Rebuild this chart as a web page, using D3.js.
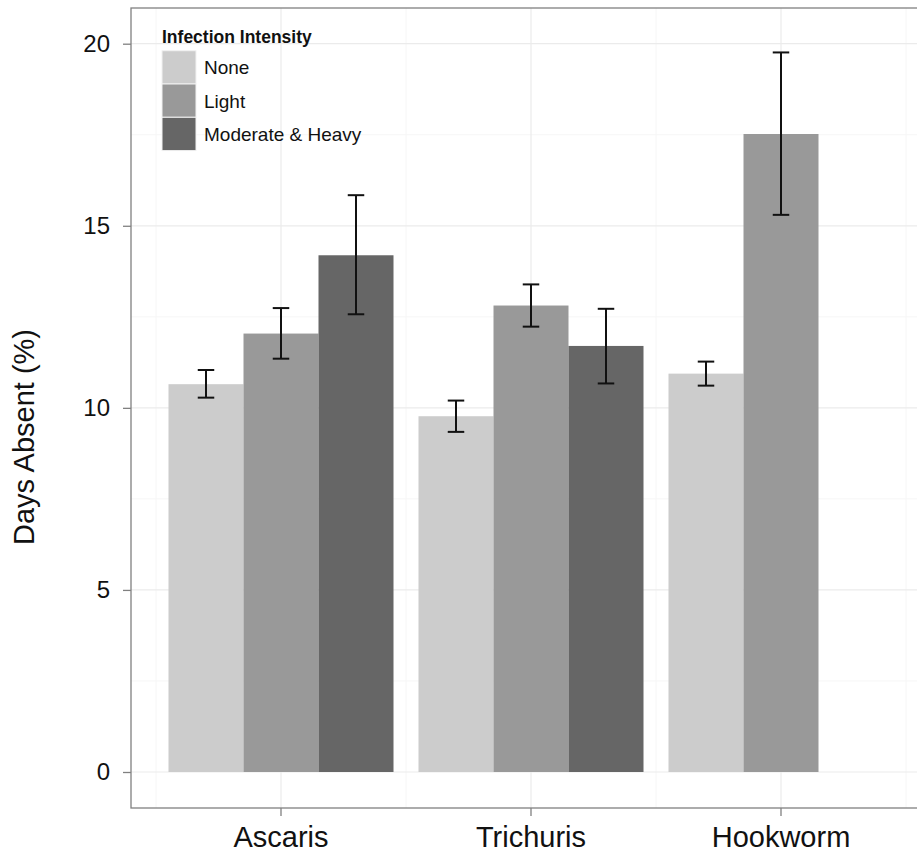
<!DOCTYPE html>
<html>
<head>
<meta charset="utf-8">
<script src="https://cdn.jsdelivr.net/npm/d3@7"></script>
<style>
  html, body { margin: 0; padding: 0; background: #fff; }
  svg { display: block; font-family: "Liberation Sans", Arial, Helvetica, sans-serif; }
</style>
</head>
<body>
<svg id="chart" width="917" height="856"></svg>
<script>
// Parasites on the x axis and infection-intensity groups within each
const parasites = ["Ascaris", "Trichuris", "Hookworm"];
const intensities = ["None", "Light", "Moderate & Heavy"];

// Mean days absent (%) per parasite, one array per intensity group
const noneMean  = [10.65, 9.77, 10.94];
const lightMean = [12.04, 12.81, 17.52];
const heavyMean = [14.19, 11.70, null];

// Lower / upper bounds of the error bars
const noneLow   = [10.28, 9.34, 10.61];
const noneHigh  = [11.04, 10.20, 11.27];
const lightLow  = [11.35, 12.23, 15.30];
const lightHigh = [12.74, 13.39, 19.76];
const heavyLow  = [12.57, 10.67, null];
const heavyHigh = [15.84, 12.72, null];

const yTicks = [0, 5, 10, 15, 20];
const yMinorTicks = [2.5, 7.5, 12.5, 17.5];
const fillColors = ["#cccccc", "#999999", "#666666"];

const groups = [
  { key: intensities[0], mean: noneMean,  low: noneLow,  high: noneHigh },
  { key: intensities[1], mean: lightMean, low: lightLow, high: lightHigh },
  { key: intensities[2], mean: heavyMean, low: heavyLow, high: heavyHigh }
];

const rows = [];
parasites.forEach((p, i) => {
  groups.forEach(g => {
    if (g.mean[i] != null) {
      rows.push({ parasite: p, intensity: g.key, value: g.mean[i], low: g.low[i], high: g.high[i] });
    }
  });
});

const svg = d3.select("#chart");

// Panel geometry
const panel = { left: 131, right: 931, top: 8, bottom: 808 };

const x = d3.scaleBand()
  .domain(parasites)
  .range([panel.left, panel.right])
  .paddingInner(0.1)
  .paddingOuter(0.15);

const xInner = d3.scaleBand()
  .domain(intensities)
  .range([0, x.bandwidth()]);

const y = d3.scaleLinear()
  .domain([0, 20])
  .range([772, 43.7]);

const color = d3.scaleOrdinal().domain(intensities).range(fillColors);

const step = x.step();
const centers = parasites.map(p => x(p) + x.bandwidth() / 2);
const xMinor = [centers[0] - step / 2, ...centers.map(c => c + step / 2)];

const defs = svg.append("defs");
defs.append("clipPath").attr("id", "panel-clip")
  .append("rect")
  .attr("x", panel.left).attr("y", panel.top)
  .attr("width", panel.right - panel.left).attr("height", panel.bottom - panel.top);

const plot = svg.append("g").attr("clip-path", "url(#panel-clip)");

// Minor grid
plot.append("g").selectAll("line").data(yMinorTicks).join("line")
  .attr("x1", panel.left).attr("x2", panel.right)
  .attr("y1", d => y(d)).attr("y2", d => y(d))
  .attr("stroke", "#f6f6f6").attr("stroke-width", 1);
plot.append("g").selectAll("line").data(xMinor).join("line")
  .attr("x1", d => d).attr("x2", d => d)
  .attr("y1", panel.top).attr("y2", panel.bottom)
  .attr("stroke", "#f6f6f6").attr("stroke-width", 1);

// Major grid
plot.append("g").selectAll("line").data(yTicks).join("line")
  .attr("x1", panel.left).attr("x2", panel.right)
  .attr("y1", d => y(d)).attr("y2", d => y(d))
  .attr("stroke", "#ebebeb").attr("stroke-width", 1.2);
plot.append("g").selectAll("line").data(centers).join("line")
  .attr("x1", d => d).attr("x2", d => d)
  .attr("y1", panel.top).attr("y2", panel.bottom)
  .attr("stroke", "#ebebeb").attr("stroke-width", 1.2);

// Bars
plot.append("g").selectAll("rect").data(rows).join("rect")
  .attr("x", d => x(d.parasite) + xInner(d.intensity))
  .attr("width", xInner.bandwidth())
  .attr("y", d => y(d.value))
  .attr("height", d => y(0) - y(d.value))
  .attr("fill", d => color(d.intensity));

// Error bars
const capHalf = xInner.bandwidth() * 0.11;
const eb = plot.append("g").attr("stroke", "#111").attr("stroke-width", 2).attr("fill", "none");
rows.forEach(d => {
  const cx = x(d.parasite) + xInner(d.intensity) + xInner.bandwidth() / 2;
  eb.append("line").attr("x1", cx).attr("x2", cx).attr("y1", y(d.low)).attr("y2", y(d.high));
  eb.append("line").attr("x1", cx - capHalf).attr("x2", cx + capHalf).attr("y1", y(d.low)).attr("y2", y(d.low));
  eb.append("line").attr("x1", cx - capHalf).attr("x2", cx + capHalf).attr("y1", y(d.high)).attr("y2", y(d.high));
});

// Panel border
svg.append("rect")
  .attr("x", panel.left).attr("y", panel.top)
  .attr("width", panel.right - panel.left).attr("height", panel.bottom - panel.top)
  .attr("fill", "none").attr("stroke", "#808080").attr("stroke-width", 1.3);

// Y axis
const yAxis = svg.append("g")
  .attr("transform", `translate(${panel.left},0)`)
  .call(d3.axisLeft(y).tickValues(yTicks).tickSize(8).tickPadding(13).tickFormat(d3.format("d")));
yAxis.select(".domain").remove();
yAxis.selectAll(".tick line").attr("stroke", "#808080").attr("stroke-width", 1.3);
yAxis.selectAll(".tick text")
  .attr("font-size", 24).attr("fill", "#111").attr("font-family", "inherit");

// X axis
const xAxis = svg.append("g")
  .attr("transform", `translate(0,${panel.bottom})`)
  .call(d3.axisBottom(x).tickSize(8).tickPadding(10));
xAxis.select(".domain").remove();
xAxis.selectAll(".tick line").attr("stroke", "#808080").attr("stroke-width", 1.3);
xAxis.selectAll(".tick text")
  .attr("font-size", 29).attr("fill", "#111").attr("font-family", "inherit");

// Y axis title
svg.append("text")
  .attr("transform", `translate(34,${(panel.top + panel.bottom) / 2 + 29}) rotate(-90)`)
  .attr("text-anchor", "middle")
  .attr("font-size", 29).attr("fill", "#111")
  .text("Days Absent (%)");

// Legend
const legend = svg.append("g").attr("transform", "translate(162,0)");
legend.append("text")
  .attr("x", 0).attr("y", 42.5)
  .attr("font-size", 17.5).attr("font-weight", "bold").attr("fill", "#111")
  .text("Infection Intensity");
const keyH = 33.3, keyW = 34, keyTop = 50.7;
const item = legend.selectAll("g.item").data(intensities).join("g")
  .attr("transform", (d, i) => `translate(0,${keyTop + i * keyH})`);
item.append("rect")
  .attr("width", keyW).attr("height", keyH)
  .attr("fill", d => color(d)).attr("stroke", "#f2f2f2").attr("stroke-width", 1);
item.append("text")
  .attr("x", 42).attr("y", keyH / 2 + 7)
  .attr("font-size", 19).attr("fill", "#111")
  .text(d => d);
</script>
</body>
</html>
